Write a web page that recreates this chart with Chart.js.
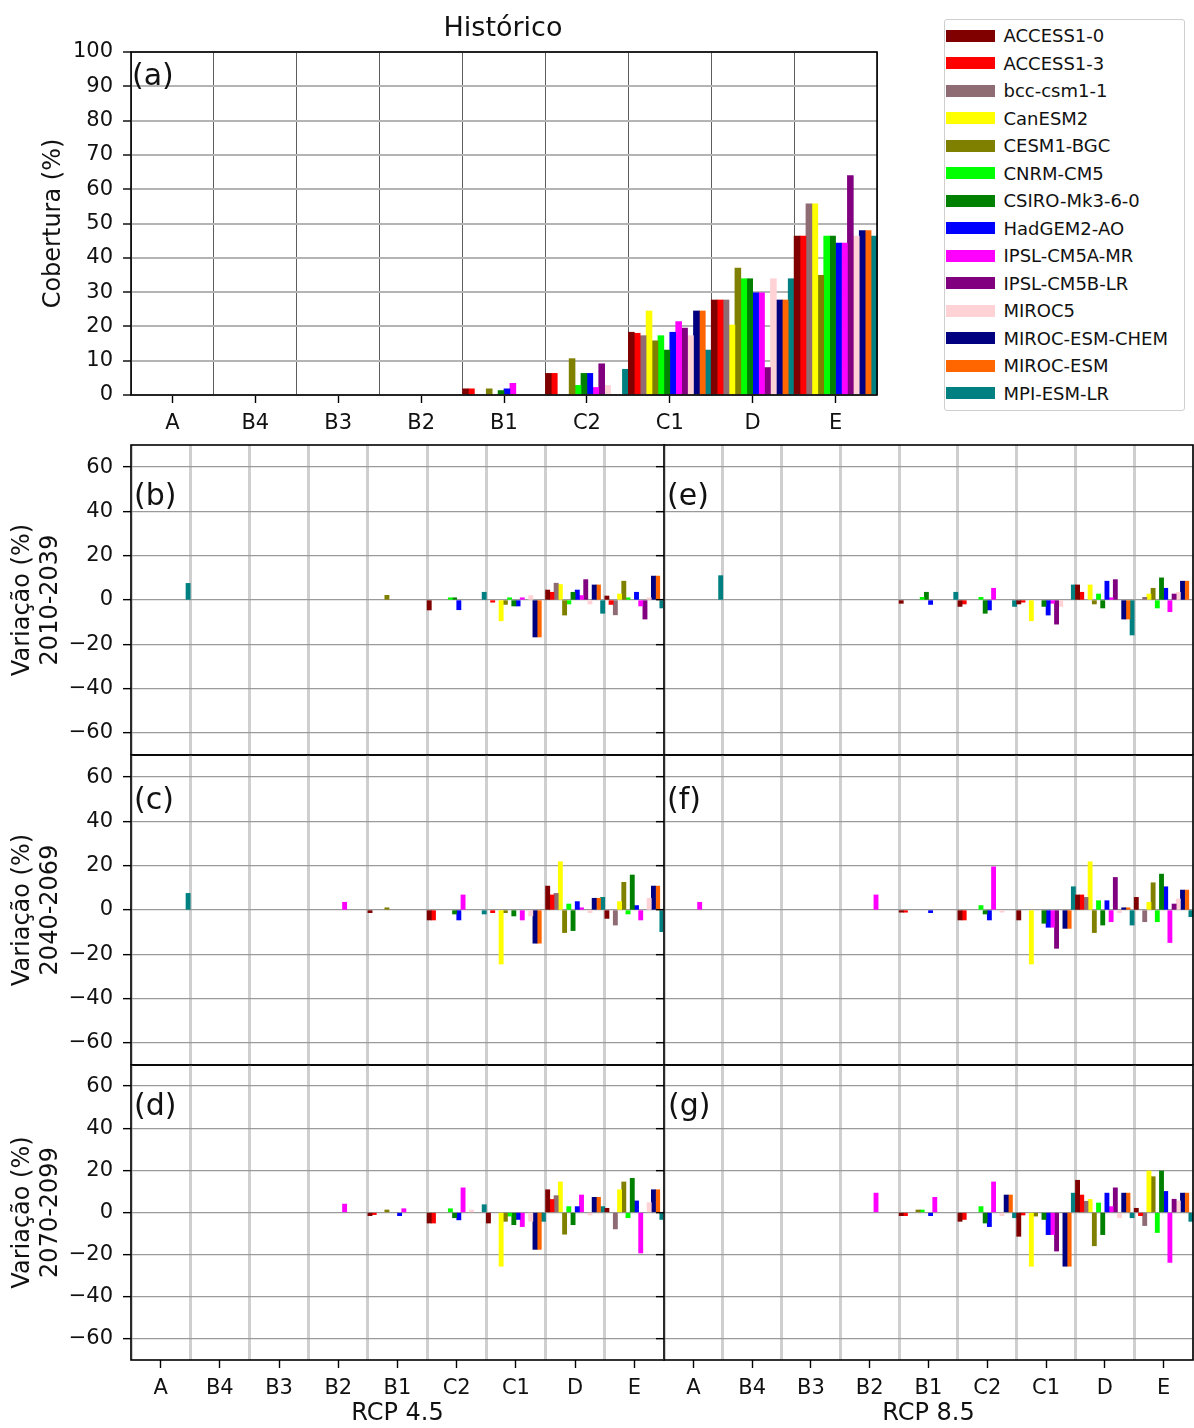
<!DOCTYPE html>
<html lang="pt">
<head>
<meta charset="utf-8">
<title>Cobertura por classe</title>
<script src="https://cdn.jsdelivr.net/npm/chart.js@4.4.1/dist/chart.umd.min.js"></script>
<style>
  body { margin:0; background:#fff; }
  #page { position:relative; width:1194px; height:1428px; overflow:hidden; font-family:"DejaVu Sans", sans-serif; color:#111; }
  canvas { position:absolute; }
  .tag { position:absolute; font-size:30px; line-height:30px; }
  #title { position:absolute; left:403px; width:200px; top:12px; text-align:center; font-size:27px; line-height:30px; }
  #legend { position:absolute; left:944px; top:19px; width:239px; height:390px; border:1.5px solid #cfcfcf; border-radius:3px; }
  .item { position:absolute; left:0.5px; height:27.5px; display:flex; align-items:center; font-size:18px; white-space:nowrap; }
  .sw { width:49px; height:12px; margin-right:9px; display:inline-block; }
</style>
</head>
<body>
<div id="page">
  <canvas id="ca" width="880" height="440" style="left:0;top:0"></canvas>
  <canvas id="cb" width="668" height="330" style="left:0;top:430px"></canvas>
  <canvas id="cc" width="668" height="330" style="left:0;top:740px"></canvas>
  <canvas id="cd" width="668" height="378" style="left:0;top:1050px"></canvas>
  <canvas id="ce" width="544" height="330" style="left:650px;top:430px"></canvas>
  <canvas id="cf" width="544" height="330" style="left:650px;top:740px"></canvas>
  <canvas id="cg" width="544" height="378" style="left:650px;top:1050px"></canvas>
  <div id="title">Histórico</div>
  <div class="tag" style="left:132px;top:60px">(a)</div>
  <div class="tag" style="left:134px;top:480px">(b)</div>
  <div class="tag" style="left:134px;top:784px">(c)</div>
  <div class="tag" style="left:134px;top:1090px">(d)</div>
  <div class="tag" style="left:667px;top:480px">(e)</div>
  <div class="tag" style="left:667px;top:784px">(f)</div>
  <div class="tag" style="left:668px;top:1090px">(g)</div>
  <div id="legend"></div>
</div>
<script>
Chart.defaults.font.family = "'DejaVu Sans', sans-serif";
Chart.defaults.color = '#111';

const categories = ['A', 'B4', 'B3', 'B2', 'B1', 'C2', 'C1', 'D', 'E'];
const models = ['ACCESS1-0', 'ACCESS1-3', 'bcc-csm1-1', 'CanESM2', 'CESM1-BGC', 'CNRM-CM5', 'CSIRO-Mk3-6-0',
  'HadGEM2-AO', 'IPSL-CM5A-MR', 'IPSL-CM5B-LR', 'MIROC5', 'MIROC-ESM-CHEM', 'MIROC-ESM', 'MPI-ESM-LR'];
const modelColors = ['#800000', '#ff0000', '#8f6b74', '#ffff00', '#808000', '#00ff00', '#008000',
  '#0000ff', '#ff00ff', '#800080', '#ffd3d6', '#000080', '#ff6600', '#008080'];
const coverTicks = [0, 10, 20, 30, 40, 50, 60, 70, 80, 90, 100];
const changeTicks = [-60, -40, -20, 0, 20, 40, 60];

// historical cover (%), one row per model, columns follow categories
const hist = [
  [0, 0, 0, 0, 1.8, 6.3, 18.3, 27.7, 46.3],
  [0, 0, 0, 0, 1.8, 6.3, 18.0, 27.7, 46.3],
  [0, 0, 0, 0, 0, 0, 17.3, 27.7, 55.7],
  [0, 0, 0, 0, 0, 0, 24.5, 20.4, 55.7],
  [0, 0, 0, 0, 1.8, 10.6, 15.8, 37.0, 34.9],
  [0, 0, 0, 0, 0, 2.8, 17.3, 33.9, 46.3],
  [0, 0, 0, 0, 1.3, 6.3, 13.1, 33.9, 46.3],
  [0, 0, 0, 0, 1.8, 6.3, 18.3, 29.8, 44.3],
  [0, 0, 0, 0, 3.4, 2.2, 21.4, 29.8, 44.3],
  [0, 0, 0, 0, 0, 9.1, 19.5, 8.0, 64.0],
  [0, 0, 0, 0, 0, 2.8, 17.3, 33.9, 46.3],
  [0, 0, 0, 0, 0, 0, 24.5, 27.7, 47.9],
  [0, 0, 0, 0, 0, 0, 24.5, 27.7, 47.9],
  [0, 0, 0, 0, 0, 7.5, 13.1, 33.9, 46.3]
];

// change (%) RCP 4.5, 2010-2039
const rcp45_2010 = [
  [0, 0, 0, 0, 0, -4.5, 0, 4.5, 1.8],
  [0, 0, 0, 0, 0, 0, -1.0, 3.5, -2.0],
  [0, 0, 0, 0, 0, 0, 0, 7.6, -6.7],
  [0, 0, 0, 0, 0, 0, -9.4, 7.0, 2.7],
  [0, 0, 0, 0, 2.1, 0, -2.0, -6.8, 8.5],
  [0, 0, 0, 0, 0, 1.0, 1.0, -1.8, 1.0],
  [0, 0, 0, 0, 0, 1.0, -2.7, 3.5, 0],
  [0, 0, 0, 0, 0, -4.4, -2.7, 4.5, 3.5],
  [0, 0, 0, 0, 0, 0, 1.0, 2.0, -2.7],
  [0, 0, 0, 0, 0, 0, 0, 9.2, -8.6],
  [0, 0, 0, 0, 0, 0, 2.0, -1.8, 1.0],
  [0, 0, 0, 0, 0, 0, -16.7, 6.8, 10.8],
  [0, 0, 0, 0, 0, 0, -16.7, 6.8, 10.8],
  [7.5, 0, 0, 0, 0, 3.5, 0, -6.0, -3.6]
];

// change (%) RCP 4.5, 2040-2069
const rcp45_2040 = [
  [0, 0, 0, 0, -1.2, -4.5, 0, 10.8, -3.8],
  [0, 0, 0, 0, 0, -4.5, -1.2, 6.8, 0],
  [0, 0, 0, 0, 0, 0, 0, 7.5, -6.8],
  [0, 0, 0, 0, 0, 0, -24.4, 21.8, 3.8],
  [0, 0, 0, 0, 1.0, 0, -1.2, -10.2, 12.5],
  [0, 0, 0, 0, 0, 0, 0, 2.7, -1.8],
  [0, 0, 0, 0, 0, -1.8, -2.7, -9.3, 15.8],
  [0, 0, 0, 0, 0, -4.5, 0, 3.8, 2.0],
  [0, 0, 0, 3.5, 0, 6.8, -4.5, 1.0, -4.5],
  [0, 0, 0, 0, 0, 0, 0, 0, 0],
  [0, 0, 0, 0, 0, 0, -2.7, -1.2, 5.3],
  [0, 0, 0, 0, 0, 0, -15.0, 5.3, 10.8],
  [0, 0, 0, 0, 0, 0, -15.0, 5.3, 10.8],
  [7.5, 0, 0, 0, 0, -1.8, 0, 5.7, -9.8]
];

// change (%) RCP 4.5, 2070-2099
const rcp45_2070 = [
  [0, 0, 0, 0, -1.5, -5.0, -5.0, 10.8, 2.0],
  [0, 0, 0, 0, -1.0, -5.0, 0, 6.2, 0],
  [0, 0, 0, 0, 0, 0, 0, 8.0, -7.8],
  [0, 0, 0, 0, 0, 0, -25.5, 14.5, 10.8],
  [0, 0, 0, 0, 1.2, 0, -4.2, -10.3, 14.5],
  [0, 0, 0, 0, 0, 1.8, -1.7, 2.8, -2.5],
  [0, 0, 0, 0, 0, -2.5, -5.8, -5.8, 16.2],
  [0, 0, 0, 0, -1.5, -3.5, -3.3, 2.8, 5.5],
  [0, 0, 0, 4.0, 1.8, 11.7, -6.7, 8.3, -19.2],
  [0, 0, 0, 0, 0, 0, 0, 0, 0],
  [0, 0, 0, 0, 0, 1.2, -4.2, -1.2, 4.7],
  [0, 0, 0, 0, 0, 0, -17.5, 7.2, 10.8],
  [0, 0, 0, 0, 0, 0, -17.5, 7.2, 10.8],
  [0, 0, 0, 0, 0, 3.7, -4.2, 2.8, -3.3]
];

// change (%) RCP 8.5, 2010-2039
const rcp85_2010 = [
  [0, 0, 0, 0, -1.5, -2.9, -1.8, 6.8, 0],
  [0, 0, 0, 0, 0, -1.8, -1.0, 3.5, 0],
  [0, 0, 0, 0, 0, 0, 0, 0, 1.2],
  [0, 0, 0, 0, 0, 0, -9.4, 6.8, 2.7],
  [0, 0, 0, 0, 0, 0, 0, -1.8, 5.3],
  [0, 0, 0, 0, 1.2, 1.2, 0, 2.7, -3.6],
  [0, 0, 0, 0, 3.5, -6.0, -2.9, -3.6, 10.0],
  [0, 0, 0, 0, -2.0, -4.5, -6.8, 8.5, 5.3],
  [0, 0, 0, 0, 0, 5.3, -1.5, 1.0, -5.3],
  [0, 0, 0, 0, 0, 0, -10.9, 9.2, 2.7],
  [0, 0, 0, 0, 0, 0, -2.9, 0, 3.5],
  [0, 0, 0, 0, 0, 0, 0, -8.6, 8.5],
  [0, 0, 0, 0, 0, 0, 0, -8.6, 8.5],
  [11.0, 0, 0, 0, 3.5, -2.9, 6.8, -15.8, 0]
];

// change (%) RCP 8.5, 2040-2069
const rcp85_2040 = [
  [0, 0, 0, 0, -1.0, -4.5, -4.5, 6.8, 5.7],
  [0, 0, 0, 0, -1.0, -4.5, 0, 6.8, 0],
  [0, 0, 0, 0, 0, 0, 0, 5.7, -5.3],
  [0, 0, 0, 0, 0, 0, -24.4, 21.8, 3.5],
  [0, 0, 0, 0, 0, 0, 0, -10.2, 12.3],
  [0, 0, 0, 0, 0, 2.0, 0, 4.2, -5.3],
  [0, 0, 0, 0, 0, -1.8, -6.0, -6.8, 16.2],
  [0, 0, 0, 0, -1.2, -4.5, -7.8, 4.2, 10.5],
  [3.5, 0, 0, 6.8, 0, 19.5, -7.8, -5.3, -14.7],
  [0, 0, 0, 0, 0, 0, -17.3, 14.7, 2.7],
  [0, 0, 0, 0, 0, -1.0, 0, -1.2, 5.0],
  [0, 0, 0, 0, 0, 0, -8.3, 1.0, 9.0],
  [0, 0, 0, 0, 0, 0, -8.3, 1.0, 9.0],
  [0, 0, 0, 0, 0, 0, 10.5, -6.8, -3.0]
];

// change (%) RCP 8.5, 2070-2099
const rcp85_2070 = [
  [0, 0, 0, 0, -1.5, -4.2, -11.3, 15.3, 2.0],
  [0, 0, 0, 0, -1.5, -3.3, -1.2, 8.3, -1.5],
  [0, 0, 0, 0, 0, 0, 0, 5.3, -6.2],
  [0, 0, 0, 0, 0, 0, -25.5, 6.2, 19.7],
  [0, 0, 0, 0, 1.2, 0, -1.7, -15.8, 17.0],
  [0, 0, 0, 0, 1.2, 2.8, 0, 4.5, -9.5],
  [0, 0, 0, 0, 0, -5.0, -3.3, -10.5, 19.7],
  [0, 0, 0, 0, -1.5, -6.7, -10.5, 9.2, 10.0],
  [0, 0, 0, 9.2, 7.2, 14.5, -10.5, 2.8, -23.7],
  [0, 0, 0, 0, 0, 0, -18.3, 11.7, 6.3],
  [0, 0, 0, 0, 0, -1.5, 0, -2.5, 5.5],
  [0, 0, 0, 0, 0, 8.3, -25.5, 9.2, 9.2],
  [0, 0, 0, 0, 0, 8.3, -25.5, 9.2, 9.2],
  [0, 0, 0, 0, 0, -2.5, 9.2, -2.5, -4.2]
];

// black box round each plot area
const frame = {
  id: 'frame',
  afterDatasetsDraw(chart) {
    const {ctx, chartArea: a} = chart;
    ctx.save();
    ctx.strokeStyle = '#000';
    ctx.lineWidth = 1.6;
    ctx.strokeRect(a.left, a.top, a.right - a.left, a.bottom - a.top);
    ctx.restore();
  }
};

function makePanel(id, rows, cfg) {
  const cover = cfg.kind === 'cover';
  const tickFont = {size: 21};
  return new Chart(document.getElementById(id), {
    type: 'bar',
    data: {
      labels: categories,
      datasets: models.map((name, i) => ({
        label: name,
        // a zero means no bar at all
        data: rows[i].map(v => v === 0 ? null : v),
        backgroundColor: modelColors[i],
        borderWidth: 0,
        barPercentage: 1,
        categoryPercentage: 1
      }))
    },
    options: {
      responsive: false,
      animation: false,
      devicePixelRatio: 1,
      events: [],
      layout: {padding: cfg.pad},
      plugins: {legend: {display: false}, tooltip: {enabled: false}},
      scales: {
        x: {
          display: cfg.bottom,
          offset: true,
          grid: {offset: false, drawOnChartArea: false, tickLength: 8, tickColor: '#000', tickWidth: 1.4},
          border: {display: false},
          ticks: {font: tickFont, padding: 8, maxRotation: 0, autoSkip: false},
          title: cfg.xTitle
            ? {display: true, text: cfg.xTitle, font: {size: 24, lineHeight: '28px'}, padding: {top: 0, bottom: 0}}
            : {display: false},
          afterFit: s => { s.height = cfg.xHeight || 0; s.paddingLeft = 0; s.paddingRight = 0; }
        },
        xg: {
          type: 'category',
          labels: categories,
          position: 'top',
          offset: true,
          grid: {offset: true, drawTicks: false, color: cover ? '#5c5c5c' : '#cfcfcf', lineWidth: cover ? 1 : 3},
          border: {display: false},
          ticks: {display: false},
          afterFit: s => { s.height = 0; }
        },
        y: {
          min: cover ? 0 : -70,
          max: cover ? 100 : 70,
          afterBuildTicks: s => { s.ticks = (cover ? coverTicks : changeTicks).map(v => ({value: v})); },
          grid: {color: cover ? '#b4b4b4' : '#9a9a9a', lineWidth: cover ? 2 : 1.3,
                 tickLength: 8, tickColor: '#000', tickWidth: 1.4},
          border: {display: false},
          ticks: {display: cfg.left, font: tickFont, padding: 10,
                  callback: v => v < 0 ? '\u2212' + (-v) : String(v)},
          title: cfg.yTitle
            ? {display: true, text: cfg.yTitle, font: {size: 24, lineHeight: '28px'}, padding: {top: cfg.yTitlePad, bottom: 0}}
            : {display: false},
          afterFit: s => { s.width = cfg.yWidth; s.paddingTop = 0; s.paddingBottom = 0; }
        }
      }
    },
    plugins: [frame]
  });
}

makePanel('ca', hist, {kind: 'cover', left: true, bottom: true, xHeight: 45, yWidth: 131,
  yTitle: 'Cobertura (%)', yTitlePad: 40, pad: {top: 52, right: 3, bottom: 0, left: 0}});

makePanel('cb', rcp45_2010, {kind: 'change', left: true, bottom: false, yWidth: 131,
  yTitle: ['Variação (%)', '2010-2039'], yTitlePad: 9, pad: {top: 15, right: 4, bottom: 5, left: 0}});
makePanel('cc', rcp45_2040, {kind: 'change', left: true, bottom: false, yWidth: 131,
  yTitle: ['Variação (%)', '2040-2069'], yTitlePad: 9, pad: {top: 15, right: 4, bottom: 5, left: 0}});
makePanel('cd', rcp45_2070, {kind: 'change', left: true, bottom: true, xHeight: 68, yWidth: 131,
  xTitle: 'RCP 4.5', yTitle: ['Variação (%)', '2070-2099'], yTitlePad: 9, pad: {top: 15, right: 4, bottom: 0, left: 0}});

makePanel('ce', rcp85_2010, {kind: 'change', left: false, bottom: false, yWidth: 14,
  pad: {top: 15, right: 1, bottom: 5, left: 0}});
makePanel('cf', rcp85_2040, {kind: 'change', left: false, bottom: false, yWidth: 14,
  pad: {top: 15, right: 1, bottom: 5, left: 0}});
makePanel('cg', rcp85_2070, {kind: 'change', left: false, bottom: true, xHeight: 68, yWidth: 14,
  xTitle: 'RCP 8.5', pad: {top: 15, right: 1, bottom: 0, left: 0}});

// legend box on the right of panel (a)
const legend = document.getElementById('legend');
models.forEach((name, i) => {
  const row = document.createElement('div');
  row.className = 'item';
  row.style.top = (1.75 + 27.5 * i) + 'px';
  const sw = document.createElement('span');
  sw.className = 'sw';
  sw.style.background = modelColors[i];
  row.appendChild(sw);
  row.appendChild(document.createTextNode(name));
  legend.appendChild(row);
});
</script>
</body>
</html>
